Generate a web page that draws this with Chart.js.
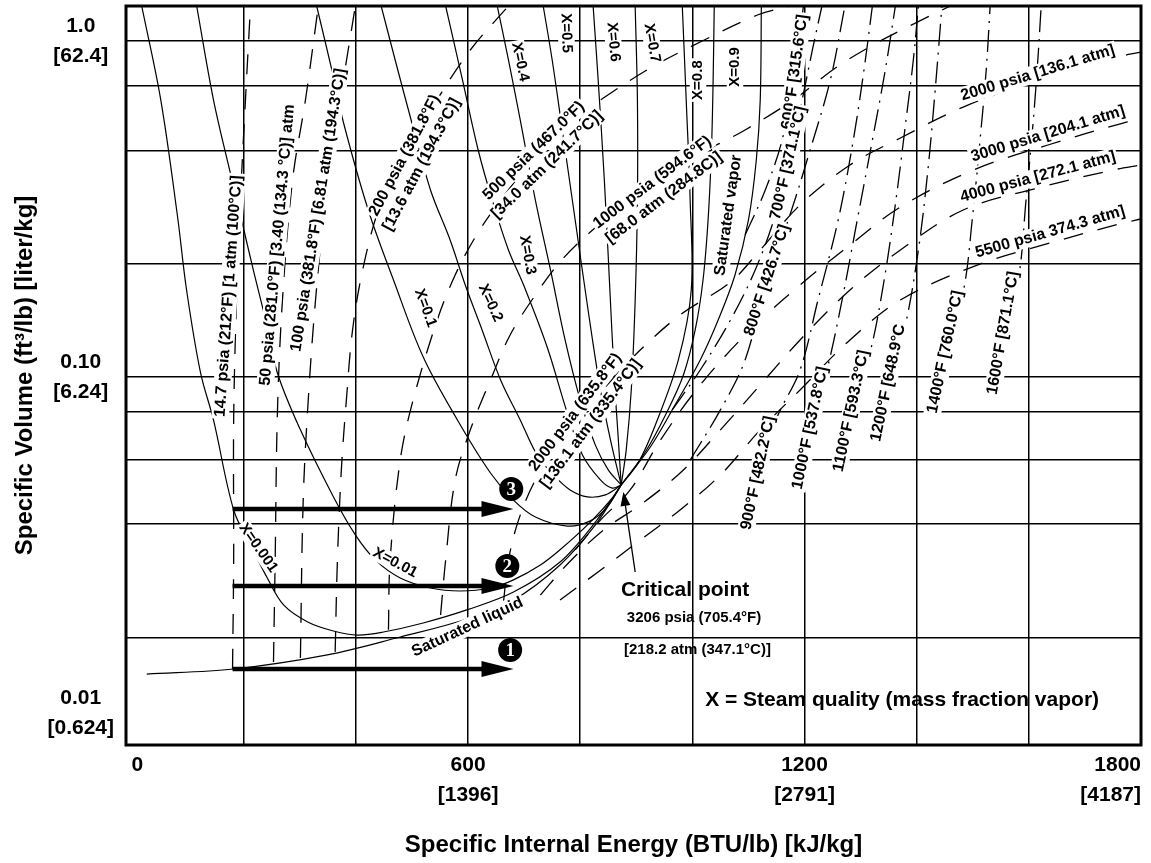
<!DOCTYPE html>
<html>
<head>
<meta charset="utf-8">
<script src="https://cdn.jsdelivr.net/npm/chart.js@4.4.0/dist/chart.umd.min.js"></script>
<style>
  html, body { margin: 0; padding: 0; background: #fff; }
  #wrap { width: 1151px; height: 863px; }
</style>
</head>
<body>
<div id="wrap"><canvas id="c"></canvas></div>
<script>
const FONT = "'Liberation Sans', Arial, Helvetica, sans-serif";

// ---- axis ticks: specific internal energy (BTU/lb) and specific volume (ft3/lb)
const energyTicks = [0, 200, 400, 600, 800, 1000, 1200, 1400, 1600, 1800];
const energyTickText = ['0', '', '', ['600', '[1396]'], '', '', ['1200', '[2791]'], '', '', ['1800', '[4187]']];
const volumeTicks = [0.01, 0.0167, 0.0365, 0.0566, 0.0787, 0.1, 0.218, 0.471, 0.735, 1.0];
const volumeTickText = [['0.01', '[0.624]'], '', '', '', '', ['0.10', '[6.24]'], '', '', '', ['1.0', '[62.4]']];

// ---- saturation dome, [u BTU/lb, v ft3/lb]
const satLiquid = [[27,0.01306],[182,0.01352],[349,0.01489],[479,0.01683],[592,0.01891],[681,0.02169],[764,0.02757],[827,0.03627],[873,0.0477]];
const satVapor = [[873,0.0477],[925,0.0619],[969,0.0825],[1014,0.1124],[1046,0.1478],[1076,0.2012],[1100,0.2933],[1114,0.4424],[1121,0.6675],[1123,1.271]];

// ---- constant steam quality lines
const x0001 = [[18,1.271],[52,0.668],[82,0.2994],[98,0.1815],[123,0.1028],[146,0.0745],[182,0.0402],[212,0.0316],[242,0.02523],[271,0.02097],[314,0.01866],[360,0.01754],[403,0.01706],[449,0.01742],[520,0.01853],[599,0.0203],[681,0.02291],[764,0.02814],[827,0.0370],[873,0.0477]];
const x001 = [[116,1.271],[146,0.668],[176,0.4048],[199,0.2795],[217,0.2082],[239,0.1478],[260,0.1028],[301,0.0696],[360,0.04395],[399,0.0339],[435,0.0285],[479,0.02523],[533,0.02355],[586,0.02307],[640,0.02355],[681,0.0249],[729,0.02757],[764,0.0306],[818,0.0370],[859,0.04395],[873,0.0477]];
const x01 = [[330,1.271],[360,0.7814],[378,0.5701],[422,0.3141],[467,0.1944],[520,0.1147],[581,0.0745],[640,0.0518],[681,0.0430],[720,0.0383],[777,0.0360],[818,0.0373],[848,0.0410],[873,0.0477]];
const x02 = [[445,1.271],[470,0.878],[497,0.594],[533,0.3602],[568,0.2557],[595,0.1878],[625,0.1380],[658,0.0980],[693,0.0745],[723,0.0586],[752,0.0511],[782,0.0461],[813,0.04395],[845,0.0446],[873,0.0477]];
const x03 = [[560,1.271],[590,0.7655],[618,0.4738],[643,0.3363],[672,0.2388],[699,0.1878],[741,0.1228],[777,0.0781],[804,0.0586],[836,0.0494],[857,0.0467],[873,0.0477]];
const x04 = [[652,1.271],[672,0.878],[693,0.582],[720,0.3363],[747,0.2082],[773,0.1289],[800,0.0854],[827,0.0627],[850,0.0529],[873,0.0477]];
const x05 = [[734,1.271],[750,0.878],[768,0.5434],[791,0.2933],[814,0.1583],[836,0.0915],[854,0.0649],[873,0.0477]];
const x06 = [[823,1.271],[832,0.7655],[843,0.3857],[852,0.1944],[861,0.0980],[868,0.0649],[873,0.0477]];
const x07 = [[898,1.271],[902,0.6675],[902,0.3363],[898,0.1695],[891,0.0915],[882,0.0606],[873,0.0477]];
const x08 = [[982,1.271],[989,0.6675],[996,0.3363],[998,0.1815],[975,0.1124],[934,0.0720],[904,0.0558],[873,0.0477]];
const x09 = [[1039,1.271],[1037,0.7655],[1034,0.4738],[1028,0.2933],[1019,0.1944],[1005,0.1380],[984,0.1014],[952,0.0771],[916,0.0598],[873,0.0477]];

// ---- isobars (psia)
const p14_7 = [[180,0.01352],[182,0.0285],[182,0.0745],[187,0.1695],[194,0.3363],[203,0.6675],[212,1.271]];
const p50 = [[253,0.01418],[256,0.0285],[260,0.0781],[269,0.1695],[287,0.3857],[310,0.6675],[333,1.271]];
const p100 = [[301,0.01458],[306,0.0430],[315,0.0854],[328,0.1695],[346,0.3363],[372,0.6675],[399,1.271]];
const p200 = [[363,0.0152],[367,0.0285],[374,0.0529],[383,0.0854],[394,0.1380],[412,0.2082],[440,0.3141],[479,0.4424],[533,0.6232],[604,0.9402],[672,1.271]];
const p500 = [[458,0.0177],[461,0.0285],[479,0.0566],[502,0.0854],[545,0.1478],[577,0.2012],[613,0.2610],[649,0.3206],[702,0.4188],[747,0.5252],[836,0.6675],[925,0.831],[1014,0.993],[1116,1.195],[1174,1.271]];
const p1000 = [[551,0.01957],[560,0.0285],[577,0.0494],[604,0.0696],[640,0.0980],[675,0.1334],[720,0.1754],[764,0.2200],[818,0.2701],[889,0.3363],[978,0.4334],[1050,0.4971],[1094,0.5434],[1180,0.6675],[1255,0.831],[1322,0.973],[1394,1.123],[1460,1.271]];
const p2000 = [[663,0.02126],[672,0.0285],[690,0.0375],[720,0.0494],[756,0.0606],[800,0.0771],[848,0.0947],[907,0.1203],[978,0.1529],[1068,0.1917],[1121,0.2388],[1192,0.3250],[1281,0.4275],[1371,0.5145],[1483,0.636],[1616,0.7655],[1750,0.890],[1800,0.927]];
const p3000 = [[791,0.0306],[836,0.0375],[889,0.0461],[943,0.0649],[1014,0.0947],[1103,0.1380],[1192,0.1878],[1281,0.247],[1371,0.3206],[1501,0.4131],[1634,0.4903],[1768,0.570],[1800,0.586]];
const p4000 = [[729,0.02245],[779,0.02795],[841,0.0350],[907,0.0416],[984,0.0529],[1050,0.0696],[1121,0.0947],[1192,0.1289],[1281,0.1815],[1371,0.2388],[1483,0.3141],[1616,0.3652],[1750,0.4131],[1800,0.4275]];
const p5500 = [[764,0.0217],[836,0.0266],[907,0.0327],[978,0.0402],[1050,0.0511],[1121,0.0696],[1192,0.0915],[1281,0.1289],[1371,0.1695],[1508,0.2154],[1638,0.2505],[1768,0.2873],[1800,0.2953]];

// ---- isotherms (deg F)
const t600 = [[1094,0.2646],[1130,0.3602],[1160,0.5074],[1183,0.809],[1198,1.271]];
const t700 = [[964,0.0798],[1014,0.1049],[1068,0.1478],[1112,0.2082],[1148,0.3034],[1171,0.4334],[1192,0.6232],[1214,0.9402],[1231,1.271]];
const t800 = [[996,0.0566],[1050,0.0798],[1094,0.1124],[1133,0.1944],[1174,0.3034],[1210,0.4738],[1246,0.7655],[1272,1.271]];
const t900 = [[1094,0.0430],[1151,0.0760],[1192,0.1049],[1224,0.1695],[1260,0.2933],[1287,0.5074],[1306,0.8198],[1321,1.271]];
const t1000 = [[1210,0.0705],[1240,0.1049],[1267,0.1695],[1294,0.2933],[1321,0.5074],[1344,0.8198],[1362,1.271]];
const t1100 = [[1283,0.0792],[1317,0.1187],[1342,0.1944],[1363,0.3363],[1381,0.5819],[1394,0.8779],[1403,1.271]];
const t1200 = [[1349,0.0960],[1379,0.1409],[1403,0.2388],[1420,0.4131],[1433,0.7148],[1445,1.271]];
const t1400 = [[1451,0.1187],[1483,0.1791],[1499,0.2933],[1513,0.5074],[1524,0.8198],[1531,1.271]];
const t1600 = [[1554,0.1352],[1581,0.1944],[1595,0.3363],[1608,0.5819],[1616,0.8779],[1622,1.271]];

// ---- heating paths 1-3: constant volume, from 180 to 681 BTU/lb
const pathFromU = 180;
const pathToU = 681;
const pathV = [0.01352, 0.02388, 0.0405];
const pathNames = ['1', '2', '3'];
const pathTagU = [675, 670, 677];
const pathTagV = [0.0154, 0.0274, 0.0464];

// ---- critical point and its pointer
const criticalPoint = [873, 0.0477];
const pointerFrom = [898, 0.02628];
const pointerTo = [877, 0.04547];

// ---- curve captions (placement in u, v; rotation in degrees)
const captions = [
  { text: ['14.7 psia (212°F) [1 atm (100°C)]'], at: [173, 0.174], rot: -86 },
  { text: ['50 psia (281.0°F) [3.40 (134.3 °C)] atm'], at: [260, 0.247], rot: -85 },
  { text: ['100 psia (381.8°F) [6.81 atm (194.3°C)]'], at: [333, 0.314], rot: -81 },
  { text: ['200 psia (381.8°F)', '[13.6 atm (194.3°C)]'], at: [502, 0.4425], rot: -62 },
  { text: ['500 psia (467.0°F)', '[34.0 atm (241.7°C)]'], at: [729, 0.449], rot: -44 },
  { text: ['1000 psia (594.6°F)', '[68.0 atm (284.8C)]'], at: [939, 0.360], rot: -37 },
  { text: ['2000 psia (635.8°F)', '[136.1 atm (335.4°C)]'], at: [805, 0.0755], rot: -53 },
  { text: ['2000 psia [136.1 atm]'], at: [1616, 0.803], rot: -17 },
  { text: ['3000 psia [204.1 atm]'], at: [1634, 0.529], rot: -17 },
  { text: ['4000 psia [272.1 atm]'], at: [1616, 0.394], rot: -15 },
  { text: ['5500 psia 374.3 atm]'], at: [1638, 0.270], rot: -16 },
  { text: ['600°F [315.6°C]'], at: [1183, 0.809], rot: -82 },
  { text: ['700°F [371.1°C]'], at: [1171, 0.433], rot: -77 },
  { text: ['800°F [426.7°C]'], at: [1133, 0.194], rot: -72 },
  { text: ['900°F [482.2°C]'], at: [1117, 0.0518], rot: -78 },
  { text: ['1000°F [537.8°C]'], at: [1210, 0.0705], rot: -78 },
  { text: ['1100°F [593.3°C]'], at: [1283, 0.0792], rot: -78 },
  { text: ['1200°F [648.9°C'], at: [1349, 0.0960], rot: -78 },
  { text: ['1400°F [760.0°C]'], at: [1451, 0.1187], rot: -78 },
  { text: ['1600°F [871.1°C]'], at: [1554, 0.1352], rot: -80 },
  { text: ['X=0.001'], at: [226, 0.0310], rot: 55, size: 15 },
  { text: ['X=0.01'], at: [470, 0.0280], rot: 28, size: 15 },
  { text: ['X=0.1'], at: [524, 0.1604], rot: 70, size: 15 },
  { text: ['X=0.2'], at: [640, 0.166], rot: 65, size: 15 },
  { text: ['X=0.3'], at: [706, 0.2308], rot: 80, size: 15 },
  { text: ['X=0.4'], at: [693, 0.866], rot: 78, size: 15 },
  { text: ['X=0.5'], at: [775, 1.056], rot: 88, size: 15 },
  { text: ['X=0.6'], at: [859, 0.993], rot: 85, size: 15 },
  { text: ['X=0.7'], at: [928, 0.986], rot: 80, size: 15 },
  { text: ['X=0.8'], at: [1010, 0.765], rot: -90, size: 15 },
  { text: ['X=0.9'], at: [1076, 0.837], rot: -90, size: 15 },
  { text: ['Saturated vapor'], at: [1064, 0.303], rot: -82 },
  { text: ['Saturated liquid'], at: [599, 0.0180], rot: -25 }
];

// ---- free notes inside the plot
const notes = [
  { text: 'Critical point', at: [987, 0.02323], size: 21 },
  { text: '3206 psia (705.4°F)', at: [1003, 0.01918], size: 15 },
  { text: '[218.2 atm (347.1°C)]', at: [1009, 0.0154], size: 15 },
  { text: 'X = Steam quality (mass fraction vapor)', at: [1374, 0.01093], size: 21 }
];

// ---- build datasets
const SOLID = [];
const DASHED = [20, 15];
const DASHDOT = [22, 7, 2, 7];
const datasets = [];
function curve(points, dash) {
  datasets.push({
    data: points.map(p => ({ x: p[0], y: p[1] })),
    borderColor: '#000',
    borderWidth: dash.length ? 1.3 : 1.2,
    borderDash: dash,
    pointRadius: 0,
    fill: false,
    tension: 0.35
  });
}
[satLiquid, satVapor, x0001, x001, x01, x02, x03, x04, x05, x06, x07, x08, x09].forEach(c => curve(c, SOLID));
[p14_7, p50, p100, p200, p500, p1000, p2000, p3000, p4000, p5500].forEach(c => curve(c, DASHED));
[t600, t700, t800, t900, t1000, t1100, t1200, t1400, t1600].forEach(c => curve(c, DASHDOT));

// ---- overlay: captions, heating paths, state tags, pointer, frame
const overlay = {
  id: 'overlay',
  afterDatasetsDraw(chart) {
    const { ctx, scales: { x, y } } = chart;
    const P = (u, v) => [x.getPixelForValue(u), y.getPixelForValue(v)];
    ctx.save();

    captions.forEach(c => {
      const [px, py] = P(c.at[0], c.at[1]);
      const size = c.size || 16;
      const lh = size * 1.2;
      ctx.save();
      ctx.translate(px, py);
      ctx.rotate(c.rot * Math.PI / 180);
      ctx.font = `bold ${size}px ${FONT}`;
      ctx.textAlign = 'center';
      ctx.textBaseline = 'middle';
      const y0 = -(c.text.length - 1) * lh / 2;
      ctx.fillStyle = '#fff';
      c.text.forEach((s, i) => {
        const w = ctx.measureText(s).width;
        ctx.fillRect(-w / 2 - 2, y0 + i * lh - size * 0.55, w + 4, size * 1.1);
      });
      ctx.fillStyle = '#000';
      c.text.forEach((s, i) => ctx.fillText(s, 0, y0 + i * lh));
      ctx.restore();
    });

    ctx.fillStyle = '#000';
    ctx.textAlign = 'center';
    ctx.textBaseline = 'middle';
    notes.forEach(n => {
      const [px, py] = P(n.at[0], n.at[1]);
      ctx.font = `bold ${n.size}px ${FONT}`;
      ctx.fillText(n.text, px, py);
    });

    // heating paths
    ctx.strokeStyle = '#000';
    pathV.forEach(v => {
      const [x0, yy] = P(pathFromU, v);
      const [x1] = P(pathToU, v);
      ctx.lineWidth = 4.5;
      ctx.beginPath();
      ctx.moveTo(x0, yy);
      ctx.lineTo(x1 - 28, yy);
      ctx.stroke();
      ctx.beginPath();
      ctx.moveTo(x1, yy);
      ctx.lineTo(x1 - 32, yy - 8);
      ctx.lineTo(x1 - 32, yy + 8);
      ctx.closePath();
      ctx.fill();
    });

    // state tags
    pathNames.forEach((name, i) => {
      const [px, py] = P(pathTagU[i], pathTagV[i]);
      ctx.fillStyle = '#000';
      ctx.beginPath();
      ctx.arc(px, py, 12, 0, Math.PI * 2);
      ctx.fill();
      ctx.fillStyle = '#fff';
      ctx.font = "bold 19px 'Liberation Serif', 'Times New Roman', serif";
      ctx.fillText(name, px, py + 1);
    });

    // pointer to the critical point
    const [ax, ay] = P(pointerFrom[0], pointerFrom[1]);
    const [bx, by] = P(pointerTo[0], pointerTo[1]);
    const ang = Math.atan2(by - ay, bx - ax);
    ctx.fillStyle = '#000';
    ctx.lineWidth = 1.3;
    ctx.beginPath();
    ctx.moveTo(ax, ay);
    ctx.lineTo(bx - 10 * Math.cos(ang), by - 10 * Math.sin(ang));
    ctx.stroke();
    ctx.beginPath();
    ctx.moveTo(bx, by);
    ctx.lineTo(bx - 14 * Math.cos(ang) + 5 * Math.sin(ang), by - 14 * Math.sin(ang) - 5 * Math.cos(ang));
    ctx.lineTo(bx - 14 * Math.cos(ang) - 5 * Math.sin(ang), by - 14 * Math.sin(ang) + 5 * Math.cos(ang));
    ctx.closePath();
    ctx.fill();

    ctx.restore();
  },
  afterDraw(chart) {
    const { ctx, chartArea: a } = chart;
    ctx.save();
    ctx.strokeStyle = '#000';
    ctx.lineWidth = 3;
    ctx.strokeRect(a.left, a.top, a.right - a.left, a.bottom - a.top);
    ctx.restore();
  }
};

Chart.defaults.font.family = FONT;
Chart.defaults.color = '#000';

new Chart(document.getElementById('c'), {
  type: 'line',
  data: { datasets },
  plugins: [overlay],
  options: {
    responsive: true,
    maintainAspectRatio: false,
    devicePixelRatio: 1,
    animation: false,
    events: [],
    layout: { padding: { left: 0, right: 10, top: 6, bottom: 0 } },
    plugins: { legend: { display: false }, tooltip: { enabled: false } },
    scales: {
      x: {
        type: 'linear',
        min: -10,
        max: 1800,
        afterBuildTicks(s) { s.ticks = energyTicks.map(v => ({ value: v })); },
        afterFit(s) { s.height = 118; s.paddingLeft = 0; s.paddingRight = 0; },
        ticks: {
          autoSkip: false,
          maxRotation: 0,
          align: 'inner',
          padding: 5,
          color: '#000',
          font: { size: 21, weight: 'bold', lineHeight: 1.45 },
          callback: (v, i) => energyTickText[i]
        },
        grid: {
          color: c => (c.tick && c.tick.value === 0) ? 'rgba(0,0,0,0)' : '#000',
          lineWidth: 1.5,
          drawTicks: false
        },
        border: { display: false },
        title: {
          display: true,
          text: 'Specific Internal Energy (BTU/lb) [kJ/kg]',
          color: '#000',
          font: { size: 24, weight: 'bold', lineHeight: 1.2 },
          padding: { top: 0, bottom: 3 }
        }
      },
      y: {
        type: 'logarithmic',
        min: 0.00803,
        max: 1.271,
        afterBuildTicks(s) { s.ticks = volumeTicks.map(v => ({ value: v })); },
        afterFit(s) { s.width = 126; s.paddingTop = 0; s.paddingBottom = 0; },
        ticks: {
          autoSkip: false,
          padding: 12,
          crossAlign: 'center',
          color: '#000',
          font: { size: 21, weight: 'bold', lineHeight: 1.45 },
          callback: (v, i) => volumeTickText[i]
        },
        grid: {
          color: c => (c.tick && c.tick.value === 0.01) ? 'rgba(0,0,0,0)' : '#000',
          lineWidth: 1.5,
          drawTicks: false
        },
        border: { display: false },
        title: {
          display: true,
          text: 'Specific Volume (ft³/lb) [liter/kg]',
          color: '#000',
          font: { size: 24, weight: 'bold', lineHeight: 1.2 },
          padding: { top: 11, bottom: 0 }
        }
      }
    }
  }
});
</script>
</body>
</html>
